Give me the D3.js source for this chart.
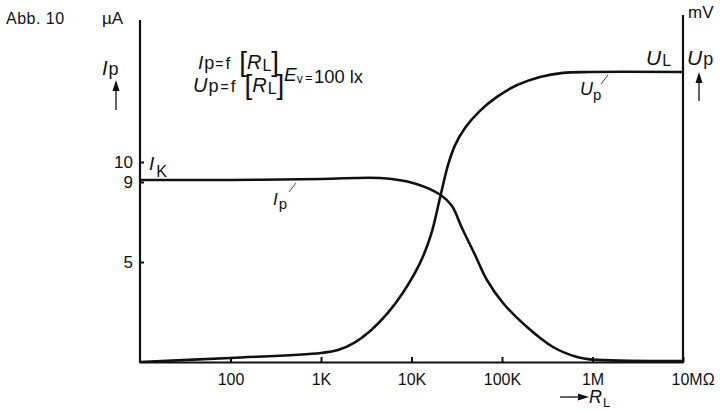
<!DOCTYPE html>
<html>
<head>
<meta charset="utf-8">
<script src="https://cdn.jsdelivr.net/npm/d3@7"></script>
<style>
  html, body { margin: 0; padding: 0; background: #fff; }
  svg { display: block; font-family: "Liberation Sans", Arial, sans-serif; }
</style>
</head>
<body>
<div id="chart"></div>
<script>
// load resistance R_L (ohm) -> photo current I_p (uA)
const ipResistance = [10, 100, 1000, 4500, 10400, 21000, 28000, 36100, 50400, 68200, 102600, 189000, 366000, 675000, 1000000, 10000000];
const ipValues = [9.1, 9.1, 9.15, 9.2, 8.95, 8.35, 7.8, 6.7, 5.35, 4.1, 2.95, 1.75, 0.75, 0.25, 0.12, 0.05];

// load resistance R_L (ohm) -> photo voltage U_p (% of U_L, no scale given)
const upResistance = [10, 100, 1000, 1540, 2320, 3500, 5360, 8000, 12400, 16400, 21000, 25300, 30300, 39000, 57000, 88000, 147000, 263000, 472000, 937000, 10000000];
const upPercent = [0, 1.4, 3.1, 4.1, 6.6, 10.7, 16.6, 23.8, 34.1, 43.8, 57.6, 67.9, 74.8, 80.7, 86.6, 91.4, 95.5, 98.3, 99.7, 100, 100];

const xTickValues = [100, 1000, 10000, 100000, 1000000, 10000000];
const xTickLabels = ["100", "1K", "10K", "100K", "1M", "10MΩ"];
const yTickValues = [5, 9, 10];
const yTickLabels = ["5", "9", "10"];

const width = 722, height = 411;

const svg = d3.select("#chart").append("svg")
  .attr("width", width)
  .attr("height", height)
  .style("background", "#fff");

const x = d3.scaleLog().domain([10, 1e7]).range([140, 683]);
const y = d3.scaleLinear().domain([0, 17.1]).range([362, 20]);
// U_L plateau sits at about 14.5 units of the left scale
const yUp = d3.scaleLinear().domain([0, 100]).range([y(0), y(14.5)]);

const ink = "#111";

// --- AXES ---
const xAxis = svg.append("g")
  .attr("transform", `translate(0,${y(0)})`)
  .call(d3.axisBottom(x)
    .tickValues(xTickValues)
    .tickFormat((d, i) => xTickLabels[i])
    .tickSizeInner(-5)
    .tickSizeOuter(0)
    .tickPadding(12));

xAxis.selectAll("text")
  .style("font-size", "16px")
  .attr("fill", ink);
// 10MΩ label starts at the tick instead of centring on it
xAxis.selectAll(".tick").filter(d => d === 1e7).select("text")
  .attr("text-anchor", "start")
  .attr("dx", -12);

const yAxis = svg.append("g")
  .attr("transform", `translate(${x(10)},0)`)
  .call(d3.axisLeft(y)
    .tickValues(yTickValues)
    .tickFormat((d, i) => yTickLabels[i])
    .tickSizeInner(-4)
    .tickSizeOuter(0)
    .tickPadding(7));

yAxis.select(".domain").remove();
yAxis.selectAll("text")
  .style("font-size", "17px")
  .attr("fill", ink);

svg.selectAll(".domain, .tick line")
  .attr("stroke", ink)
  .attr("stroke-width", 2);

// left and right vertical axis lines
svg.append("line")
  .attr("x1", x(10)).attr("x2", x(10))
  .attr("y1", y(0) + 1).attr("y2", y(17.1))
  .attr("stroke", ink).attr("stroke-width", 2.2);

svg.append("line")
  .attr("x1", x(1e7)).attr("x2", x(1e7))
  .attr("y1", y(0) + 1).attr("y2", y(17.35))
  .attr("stroke", ink).attr("stroke-width", 2.2);

// --- CURVES ---
const ipLine = d3.line()
  .x((d, i) => x(ipResistance[i]))
  .y(d => y(d))
  .curve(d3.curveCatmullRom.alpha(0.5));

const upLine = d3.line()
  .x((d, i) => x(upResistance[i]))
  .y(d => yUp(d))
  .curve(d3.curveCatmullRom.alpha(0.5));

svg.append("path")
  .attr("d", ipLine(ipValues))
  .attr("fill", "none")
  .attr("stroke", ink)
  .attr("stroke-width", 2.6);

svg.append("path")
  .attr("d", upLine(upPercent))
  .attr("fill", "none")
  .attr("stroke", ink)
  .attr("stroke-width", 2.6);

// --- LABELS ---
function label(xp, yp, parts, size) {
  const t = svg.append("text")
    .attr("x", xp).attr("y", yp)
    .attr("fill", ink)
    .style("font-size", size + "px");
  parts.forEach(p => {
    t.append("tspan")
      .text(p.t)
      .attr("dy", p.dy || 0)
      .attr("dx", p.dx || 0)
      .style("font-style", p.i ? "italic" : "normal")
      .style("font-size", p.s ? p.s + "px" : null);
  });
  return t;
}

label(6, 24, [{ t: "Abb. 10" }], 16).style("letter-spacing", "0.5px");
label(102, 24, [{ t: "µA" }], 17);
label(688, 18, [{ t: "mV" }], 17);

// I_p on the left axis
label(102, 75, [{ t: "I", i: true, s: 20 }, { t: "p", s: 18, dx: 1 }], 16);
// U_p on the right axis
label(687, 65, [{ t: "U", i: true, s: 21 }, { t: "p", s: 18, dx: 1 }], 16);
// U_L at the plateau
label(646, 65, [{ t: "U", i: true, s: 21 }, { t: "L", s: 16, dx: 1, dy: 1 }], 16);
// I_K at the short-circuit current
label(149, 170, [{ t: "I", i: true, s: 19 }, { t: "K", s: 16, dx: 2, dy: 7 }], 16);

// curve names with leader lines
label(273, 205, [{ t: "I", i: true, s: 17 }, { t: "p", s: 15, dx: 1, dy: 4 }], 15);
label(580, 95, [{ t: "U", i: true, s: 18 }, { t: "p", s: 15, dx: 0, dy: 5 }], 15);

svg.append("line")
  .attr("x1", 289).attr("y1", 192).attr("x2", 296).attr("y2", 183)
  .attr("stroke", ink).attr("stroke-width", 0.8);
svg.append("line")
  .attr("x1", 601).attr("y1", 84).attr("x2", 608).attr("y2", 75)
  .attr("stroke", ink).attr("stroke-width", 0.8);

// formula block
label(198, 69, [
  { t: "I", i: true, s: 19 }, { t: "p", s: 18, dx: 1 },
  { t: "=", s: 14, dx: 1 }, { t: "f", s: 17, dx: 2 },
  { t: "[", s: 28, dx: 9, dy: 2 }, { t: "R", i: true, s: 20, dy: -2 },
  { t: "L", s: 16, dx: 1, dy: 2 }, { t: "]", s: 28, dx: 0 }
], 16);
label(193, 92, [
  { t: "U", i: true, s: 20 }, { t: "p", s: 18, dx: 1 },
  { t: "=", s: 14, dx: 2 }, { t: "f", s: 17, dx: 2 },
  { t: "[", s: 28, dx: 9, dy: 2 }, { t: "R", i: true, s: 20, dy: -2 },
  { t: "L", s: 16, dx: 1, dy: 2 }, { t: "]", s: 28, dx: 0 }
], 16);
label(284, 81, [
  { t: "E", i: true, s: 19 }, { t: "v", s: 12, dx: 0, dy: 2 }
], 16);
svg.append("text")
  .attr("x", 305).attr("y", 82)
  .attr("fill", ink)
  .style("font-size", "13px")
  .text("=");
svg.append("text")
  .attr("x", 314).attr("y", 83)
  .attr("fill", ink)
  .style("font-size", "18px")
  .attr("textLength", 49)
  .attr("lengthAdjust", "spacingAndGlyphs")
  .text("100 lx");

// R_L below the x axis
label(589, 403, [{ t: "R", i: true, s: 18 }, { t: "L", s: 13, dx: 1, dy: 4 }], 16);

// arrows
function arrow(x1, y1, x2, y2) {
  const a = Math.atan2(y2 - y1, x2 - x1);
  const len = 11, half = 3.5;
  const bx = x2 - len * Math.cos(a), by = y2 - len * Math.sin(a);
  svg.append("line")
    .attr("x1", x1).attr("y1", y1).attr("x2", bx).attr("y2", by)
    .attr("stroke", ink).attr("stroke-width", 1.3);
  svg.append("path")
    .attr("d", `M${x2},${y2}L${bx - half * Math.sin(a)},${by + half * Math.cos(a)}L${bx + half * Math.sin(a)},${by - half * Math.cos(a)}Z`)
    .attr("fill", ink);
}
arrow(116, 110, 116, 80);
arrow(699, 101, 699, 72);
arrow(560, 397, 589, 397);
</script>
</body>
</html>
